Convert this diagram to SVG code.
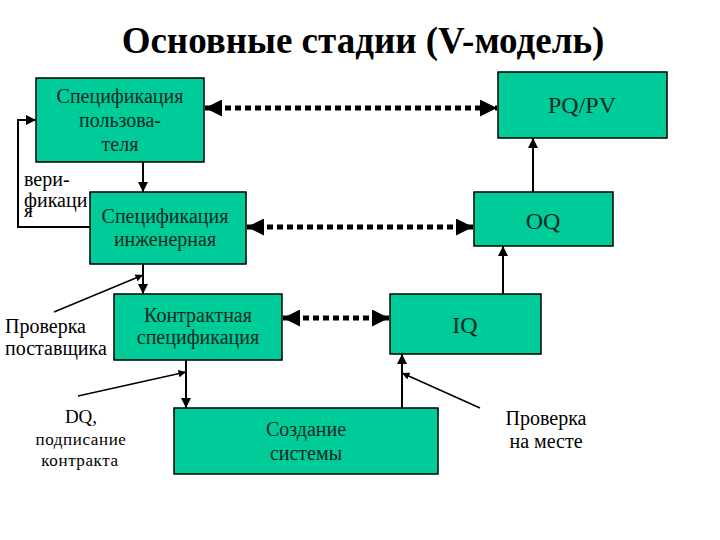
<svg xmlns="http://www.w3.org/2000/svg" width="720" height="540" viewBox="0 0 720 540">
<defs>
<style>
.box{fill:#00CC99;stroke:#000;stroke-width:1.5}
.solid{stroke:#000;stroke-width:2;fill:none}
.thin{stroke:#000;stroke-width:1.5;fill:none}
.dot{stroke:#000;stroke-width:5;stroke-dasharray:6 4;fill:none}
</style>
<marker id="ah" viewBox="0 0 10 10" refX="10" refY="5" markerWidth="5" markerHeight="5" orient="auto" markerUnits="strokeWidth">
<path d="M0,0 L10,5 L0,10 z" fill="#000"/>
</marker>
<marker id="big" viewBox="0 0 10 10" refX="10" refY="5" markerWidth="3.4" markerHeight="3.4" orient="auto-start-reverse" markerUnits="strokeWidth">
<path d="M0,0 L10,5 L0,10 z" fill="#000"/>
</marker>
</defs>
<rect width="720" height="540" fill="#fff"/>
<text x="363" y="53" font-family="'Liberation Serif', serif" font-weight="bold" font-size="37" text-anchor="middle" fill="#000">Основные стадии (V-модель)</text>

<g id="connectors">
<line class="dot" x1="205" y1="108" x2="497" y2="108" marker-start="url(#big)" marker-end="url(#big)"/>
<line class="dot" x1="247" y1="227" x2="473" y2="227" marker-start="url(#big)" marker-end="url(#big)"/>
<line class="dot" x1="283" y1="318" x2="389" y2="318" marker-start="url(#big)" marker-end="url(#big)"/>
<line class="solid" x1="143" y1="162" x2="143" y2="192" marker-end="url(#ah)"/>
<line class="solid" x1="143" y1="264" x2="143" y2="294" marker-end="url(#ah)"/>
<line class="solid" x1="186" y1="360" x2="186" y2="408" marker-end="url(#ah)"/>
<line class="solid" x1="402" y1="408" x2="402" y2="354" marker-end="url(#ah)"/>
<line class="solid" x1="503" y1="294" x2="503" y2="246" marker-end="url(#ah)"/>
<line class="solid" x1="533" y1="192" x2="533" y2="138" marker-end="url(#ah)"/>
<polyline class="solid" points="90,227 18,227 18,120 36,120" marker-end="url(#ah)"/>
<line class="thin" x1="54" y1="312" x2="143" y2="275" marker-end="url(#ah)"/>
<line class="thin" x1="78" y1="396" x2="186" y2="372" marker-end="url(#ah)"/>
<line class="thin" x1="480" y1="408" x2="402" y2="373" marker-end="url(#ah)"/>
</g>

<g font-family="'Liberation Serif', serif" fill="#0d2a22" text-anchor="middle">
<g id="n-user-spec">
<rect class="box" x="36" y="78" width="168" height="84"/>
<text font-size="20" x="120" y="103">Спецификация</text>
<text font-size="20" x="120" y="127">пользова-</text>
<text font-size="20" x="120" y="151">теля</text>
</g>
<g id="n-eng-spec">
<rect class="box" x="90" y="192" width="156" height="72"/>
<text font-size="20" x="165" y="223">Спецификация</text>
<text font-size="20" x="165" y="246">инженерная</text>
</g>
<g id="n-contract-spec">
<rect class="box" x="114" y="294" width="168" height="66"/>
<text font-size="20" x="198" y="322">Контрактная</text>
<text font-size="20" x="198" y="344">спецификация</text>
</g>
<g id="n-build">
<rect class="box" x="174" y="408" width="264" height="66"/>
<text font-size="20" x="306" y="436">Создание</text>
<text font-size="20" x="306" y="460">системы</text>
</g>
<g id="n-pqpv">
<rect class="box" x="498" y="72" width="169" height="66"/>
<text font-size="24" x="582" y="113">PQ/PV</text>
</g>
<g id="n-oq">
<rect class="box" x="474" y="192" width="139" height="54"/>
<text font-size="24" x="543" y="229">OQ</text>
</g>
<g id="n-iq">
<rect class="box" x="390" y="294" width="151" height="60"/>
<text font-size="24" x="465" y="333">IQ</text>
</g>
</g>

<g id="labels" font-family="'Liberation Serif', serif" fill="#000">
<text font-size="20" x="24" y="186" text-anchor="start">вери-</text>
<text font-size="20" x="24" y="207" text-anchor="start">фикаци</text>
<text font-size="19" x="24" y="217" text-anchor="start">я</text>
<text font-size="20" x="5" y="333" text-anchor="start">Проверка</text>
<text font-size="20" x="5" y="355" text-anchor="start">поставщика</text>
<text font-size="19" x="81" y="423" text-anchor="middle">DQ,</text>
<text font-size="17" x="81" y="445" text-anchor="middle" letter-spacing="0.6">подписание</text>
<text font-size="17" x="80" y="466" text-anchor="middle" letter-spacing="0.6">контракта</text>
<text font-size="20" x="546" y="425" text-anchor="middle">Проверка</text>
<text font-size="20" x="546" y="448" text-anchor="middle">на месте</text>
</g>
</svg>
